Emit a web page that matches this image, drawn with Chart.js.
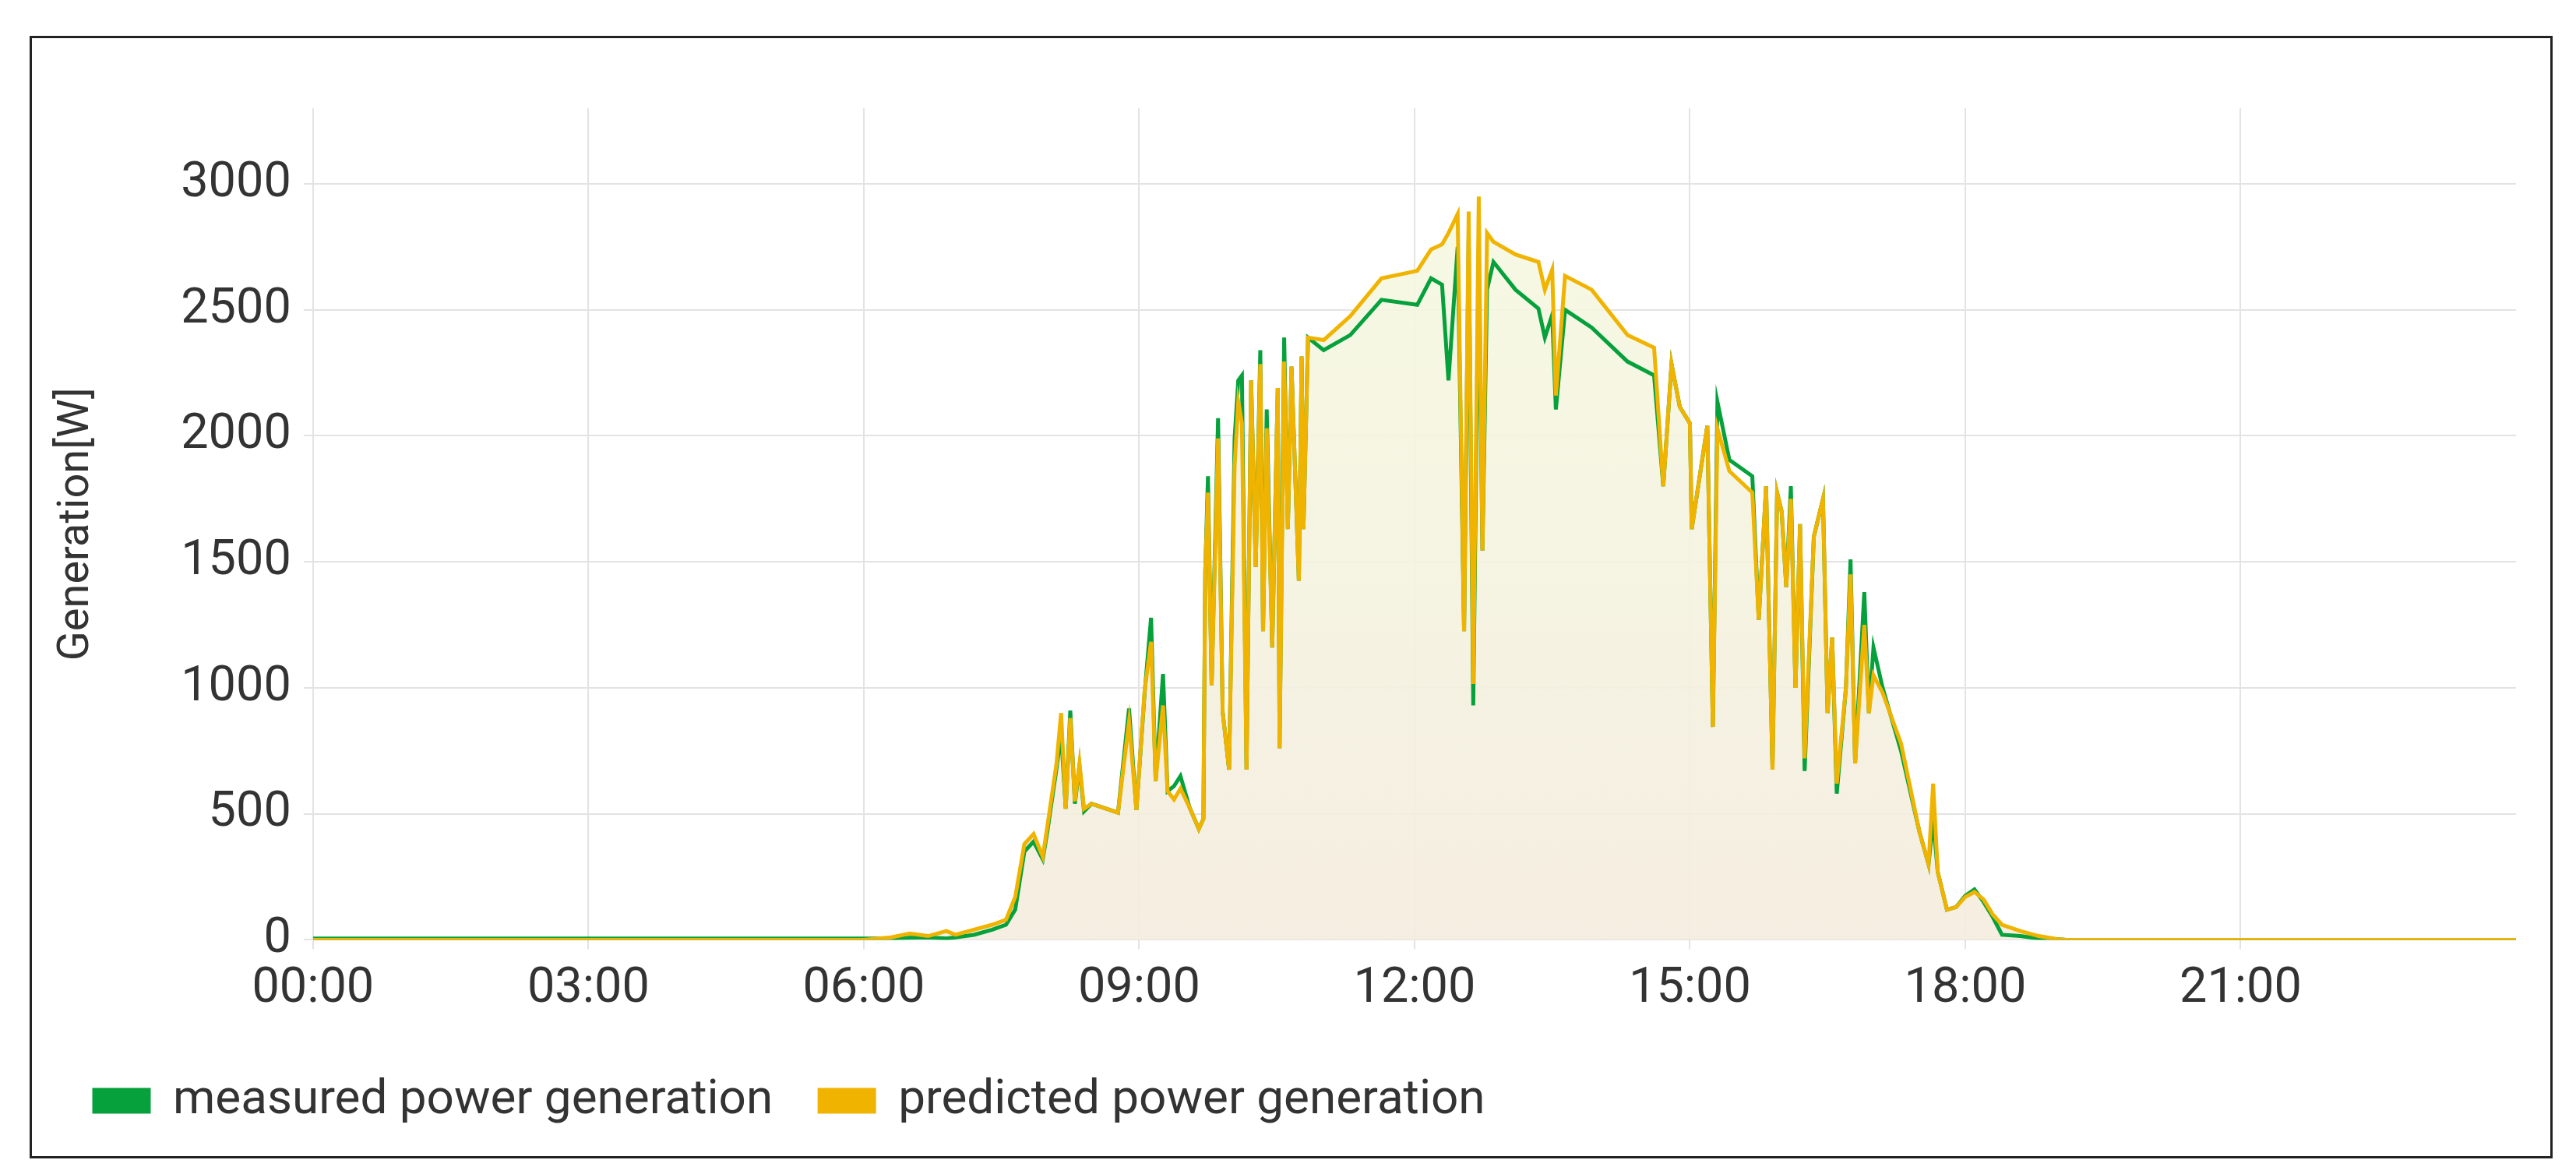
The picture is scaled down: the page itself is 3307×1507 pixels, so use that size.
<!DOCTYPE html>
<html>
<head>
<meta charset="utf-8">
<script src="https://cdn.jsdelivr.net/npm/chart.js@4"></script>
<style>
  body { margin: 0; background: #fff; }
  #frame { position: absolute; left: 38px; top: 46px; width: 3233px; height: 1435px; border: 3px solid #222; }
</style>
</head>
<body>
<div id="frame"><canvas id="grafico"></canvas></div>
<script>
// hours of day
const horas = [0, 3, 6, 6.3, 6.5, 6.7, 6.9, 7.0, 7.2, 7.4, 7.55, 7.65, 7.75, 7.85, 7.95, 8.0, 8.1, 8.15, 8.2, 8.25, 8.3, 8.35, 8.4, 8.48,
  8.77, 8.89, 8.97, 9.06, 9.13, 9.18, 9.26, 9.31, 9.38, 9.45, 9.55, 9.65, 9.70, 9.72, 9.75, 9.79, 9.86, 9.91, 9.98,
  10.04, 10.08, 10.12, 10.17, 10.22, 10.27, 10.32, 10.35, 10.39, 10.45, 10.51, 10.53, 10.58, 10.62, 10.66, 10.74, 10.77, 10.79, 10.84,
  11.01, 11.30, 11.64, 12.03, 12.18, 12.30, 12.37, 12.47, 12.54, 12.59, 12.64, 12.70, 12.74, 12.79, 12.86, 13.10, 13.35, 13.42, 13.50,
  13.54, 13.64, 13.93, 14.32, 14.61, 14.71, 14.80, 14.89, 15.0, 15.02, 15.19, 15.25, 15.30, 15.43, 15.68, 15.75, 15.83, 15.90, 15.95,
  16.0, 16.05, 16.1, 16.15, 16.2, 16.25, 16.35, 16.45, 16.5, 16.55, 16.6, 16.7, 16.75, 16.8, 16.9, 16.95, 17.0, 17.1, 17.3, 17.5,
  17.6, 17.65, 17.7, 17.8, 17.9, 18.0, 18.1, 18.2, 18.3, 18.4, 18.6, 18.8, 19.0, 19.1, 24];

const medido = [5, 5, 5, 5, 8, 10, 5, 10, 20, 40, 60, 120, 350, 390, 320, 430, 680, 820, 520, 910, 540, 690, 510, 540,
  505, 918, 515, 980, 1278, 630, 1055, 590, 610, 650, 525, 440, 480, 1460, 1840, 1010, 2070, 905, 675,
  1990, 2220, 2240, 675, 2220, 1480, 2340, 1225, 2105, 1160, 2190, 760, 2390, 1630, 2275, 1425, 2315, 1630, 2390,
  2340, 2400, 2540, 2520, 2625, 2600, 2220, 2750, 1225, 2795, 930, 2750, 1545, 2580, 2690, 2580, 2505, 2390, 2480,
  2105, 2500, 2430, 2295, 2240, 1800, 2285, 2115, 2050, 1630, 2040, 845, 2135, 1905, 1840, 1270, 1800, 675, 1775,
  1700, 1400, 1800, 1000, 1650, 670, 1600, 1750, 900, 1200, 580, 1000, 1510, 700, 1380, 900, 1160, 1000, 750, 430,
  300, 480, 270, 120, 130, 175, 200, 150, 90, 20, 15, 5, 3, 0, 0];

const previsto = [0, 0, 0, 10, 25, 15, 35, 20, 40, 60, 80, 170, 380, 420, 330, 450, 700, 900, 520, 880, 550, 700, 520, 540,
  505, 865, 515, 990, 1183, 630, 930, 590, 557, 600, 525, 440, 480, 1460, 1775, 1010, 1990, 905, 675,
  1880, 2135, 2050, 675, 2220, 1480, 2285, 1225, 2030, 1160, 2190, 760, 2295, 1630, 2275, 1425, 2315, 1630, 2390,
  2380, 2475, 2625, 2655, 2740, 2760, 2805, 2880, 1225, 2890, 1015, 2950, 1545, 2805, 2770, 2720, 2690, 2580, 2660,
  2160, 2635, 2580, 2400, 2350, 1800, 2285, 2115, 2050, 1630, 2040, 845, 2030, 1860, 1775, 1270, 1800, 675, 1775,
  1700, 1400, 1750, 1000, 1650, 720, 1600, 1750, 900, 1200, 620, 1000, 1450, 700, 1250, 900, 1050, 980, 780, 430,
  300, 620, 270, 120, 130, 170, 190, 160, 100, 60, 35, 15, 3, 0, 0];

const legendas = ["measured power generation", "predicted power generation"];
const ticksY = [0, 500, 1000, 1500, 2000, 2500, 3000];
const ticksX = [0, 3, 6, 9, 12, 15, 18, 21];

function pontos(vals) {
  return horas.map((h, i) => ({ x: h, y: vals[i] }));
}

function gradiente(context) {
  const area = context.chart.chartArea;
  if (!area) return "rgba(240,240,220,0.5)";
  const g = context.chart.ctx.createLinearGradient(0, area.top, 0, area.bottom);
  g.addColorStop(0, "rgba(245,250,225,0.9)");
  g.addColorStop(1, "rgba(244,236,222,0.9)");
  return g;
}

const txt = "#333";
new Chart(document.getElementById("grafico"), {
  type: "line",
  data: {
    datasets: [
      { label: legendas[0], data: pontos(medido), borderColor: "#06a13c", backgroundColor: "#06a13c",
        borderWidth: 5, pointRadius: 0, fill: false, order: 2 },
      { label: legendas[1], data: pontos(previsto), borderColor: "#f0b400", backgroundColor: "#f0b400",
        borderWidth: 5, pointRadius: 0, fill: { target: "origin", above: gradiente }, order: 1 }
    ]
  },
  options: {
    responsive: true,
    maintainAspectRatio: false,
    animation: false,
    layout: { padding: { top: 90, right: 44, left: 20, bottom: 30 } },
    plugins: {
      filler: { drawTime: "beforeDatasetsDraw" },
      legend: {
        position: "bottom",
        align: "start",
        labels: {
          font: { family: "Roboto", size: 62 }, color: txt, boxWidth: 70, boxHeight: 28, padding: 60,
          sort: (a, b) => a.datasetIndex - b.datasetIndex
        }
      }
    },
    scales: {
      x: {
        type: "linear", min: 0, max: 24,
        afterBuildTicks: s => { s.ticks = ticksX.map(v => ({ value: v })); },
        ticks: {
          font: { family: "Roboto", size: 63 }, color: txt, padding: 14, maxRotation: 0,
          callback: v => String(v).padStart(2, "0") + ":00"
        },
        grid: { color: "#e3e3e3", lineWidth: 2, drawTicks: true, tickLength: 12 },
        border: { display: false }
      },
      y: {
        min: 0, max: 3300,
        afterBuildTicks: s => { s.ticks = ticksY.map(v => ({ value: v })); },
        afterFit: s => { s.width += 80; },
        title: { display: true, text: "Generation[W]", font: { family: "Roboto", size: 56 }, color: txt },
        ticks: { font: { family: "Roboto", size: 63 }, color: txt, padding: 16, callback: v => String(v) },
        grid: { color: "#e3e3e3", lineWidth: 2, tickLength: 12 },
        border: { display: false }
      }
    }
  }
});
</script>
</body>
</html>
